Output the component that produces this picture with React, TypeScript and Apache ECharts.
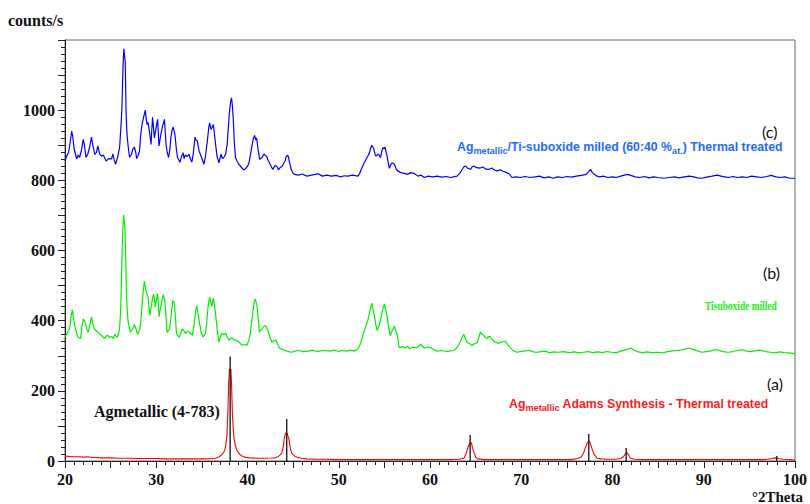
import React, { useEffect, useRef } from "react";
import * as echarts from "echarts";

// ---- data (2θ in degrees, intensity in counts/s) ----
const xTicks = [20, 30, 40, 50, 60, 70, 80, 90, 100];
const yTickLabels = [0, 200, 400, 600, 800, 1000];

const seriesC_blue: number[][] = [[20,855],[20.2,870],[20.4,880],[20.6,915],[20.73,940],[20.85,925],[21.0,890],[21.15,875],[21.27,861],[21.45,872],[21.6,865],[21.8,885],[22.0,917],[22.1,905],[22.3,865],[22.5,875],[22.7,895],[22.9,923],[23.05,900],[23.26,874],[23.45,880],[23.6,898],[23.8,875],[24.0,869],[24.2,872],[24.5,855],[24.8,862],[25.1,861],[25.25,875],[25.4,858],[25.55,846],[25.8,870],[25.98,893],[26.1,940],[26.24,1006],[26.35,1120],[26.45,1175],[26.55,1150],[26.6,1139],[26.65,1060],[26.7,988],[26.8,930],[26.9,902],[27.07,865],[27.3,875],[27.45,890],[27.6,895],[27.75,880],[27.85,862],[28.0,870],[28.16,883],[28.3,930],[28.45,960],[28.6,978],[28.8,1000],[28.9,975],[29.0,959],[29.1,965],[29.25,940],[29.43,902],[29.5,940],[29.6,980],[29.7,950],[29.8,921],[29.95,945],[30.15,974],[30.3,898],[30.5,930],[30.7,955],[30.9,974],[31.07,902],[31.2,880],[31.35,865],[31.5,890],[31.6,921],[31.75,945],[31.86,952],[32.05,930],[32.2,890],[32.33,865],[32.6,852],[32.8,870],[32.95,879],[33.05,862],[33.2,872],[33.4,868],[33.6,874],[33.75,860],[33.9,852],[34.05,875],[34.25,923],[34.35,915],[34.5,912],[34.7,883],[34.9,870],[35.1,855],[35.23,846],[35.4,870],[35.6,912],[35.75,950],[35.85,964],[36.0,945],[36.1,950],[36.25,959],[36.35,940],[36.45,915],[36.65,870],[36.87,850],[37.1,875],[37.25,862],[37.4,865],[37.6,875],[37.77,902],[37.9,950],[38.0,988],[38.15,1025],[38.25,1035],[38.35,1010],[38.43,980],[38.55,910],[38.68,865],[38.85,855],[39.05,846],[39.3,838],[39.59,829],[39.85,835],[40.13,846],[40.3,870],[40.49,898],[40.65,920],[40.78,928],[40.9,915],[41.0,921],[41.15,890],[41.33,860],[41.6,865],[41.8,875],[41.95,871],[42.1,868],[42.3,855],[42.55,842],[42.78,831],[43.0,842],[43.2,840],[43.4,830],[43.55,836],[43.8,840],[44.0,850],[44.12,855],[44.25,868],[44.4,872],[44.5,865],[44.6,852],[44.8,830],[45.03,819],[45.3,816],[45.6,815],[46.0,818],[46.5,812],[47.0,815],[47.4,817],[47.75,819],[48.2,812],[48.7,815],[49.2,812],[49.7,814],[50.2,810],[50.6,813],[51.0,812],[51.5,815],[52.1,812],[52.3,820],[52.46,831],[52.7,845],[53.0,860],[53.2,870],[53.37,879],[53.5,892],[53.62,900],[53.75,895],[53.85,889],[54.0,872],[54.1,869],[54.35,875],[54.57,865],[54.7,880],[54.82,893],[54.95,890],[55.07,895],[55.2,880],[55.3,869],[55.45,845],[55.55,834],[55.7,845],[55.84,850],[56.1,846],[56.3,832],[56.45,827],[56.8,822],[57.2,820],[57.54,817],[57.9,822],[58.3,819],[58.7,812],[59.0,815],[59.36,808],[59.8,812],[60.3,810],[60.8,812],[61.3,809],[61.8,811],[62.25,808],[62.6,810],[62.97,812],[63.25,820],[63.53,831],[63.7,838],[63.9,841],[64.1,835],[64.44,831],[64.6,838],[64.8,841],[65.1,836],[65.5,835],[65.8,838],[66.1,832],[66.43,831],[66.8,835],[67.0,830],[67.33,827],[67.7,830],[68.0,826],[68.4,822],[68.7,818],[68.97,808],[69.4,810],[69.9,808],[70.4,811],[70.96,808],[71.5,810],[72.0,812],[72.5,807],[73.0,810],[73.5,806],[74.0,810],[74.5,808],[75.0,811],[75.5,809],[76.04,812],[76.6,814],[77.1,817],[77.4,825],[77.6,831],[77.8,822],[78.0,817],[78.3,812],[78.58,810],[79.0,812],[79.5,808],[80.0,810],[80.4,808],[80.9,812],[81.3,815],[81.66,817],[82.0,814],[82.5,810],[83.0,808],[83.5,811],[84.0,807],[84.5,810],[85.0,808],[85.6,806],[86.2,808],[86.8,810],[87.3,807],[87.9,810],[88.4,812],[88.9,810],[89.3,807],[89.8,806],[90.3,809],[90.9,812],[91.46,815],[91.9,812],[92.3,810],[92.7,808],[93.2,811],[93.7,808],[94.2,810],[94.7,808],[95.26,812],[95.8,810],[96.3,808],[96.9,811],[97.4,814],[97.9,810],[98.4,808],[98.9,810],[99.4,806],[100,806]];

const seriesB_green: number[][] = [[20,353],[20.2,363],[20.4,372],[20.54,382],[20.65,410],[20.8,431],[20.95,405],[21.1,382],[21.3,362],[21.45,353],[21.7,349],[21.85,380],[22.0,405],[22.1,400],[22.25,391],[22.4,375],[22.54,367],[22.7,385],[22.9,410],[23.05,392],[23.2,377],[23.4,372],[23.6,367],[23.8,362],[24.0,358],[24.2,352],[24.35,349],[24.5,356],[24.7,358],[24.9,352],[25.1,355],[25.3,350],[25.45,361],[25.7,352],[25.85,362],[25.98,377],[26.1,430],[26.2,524],[26.3,640],[26.42,702],[26.5,680],[26.57,665],[26.65,580],[26.71,505],[26.8,440],[26.9,401],[27.15,367],[27.4,375],[27.6,389],[27.8,375],[27.95,361],[28.2,375],[28.35,410],[28.45,448],[28.6,490],[28.7,512],[28.8,495],[28.9,481],[29.1,468],[29.2,440],[29.3,415],[29.5,448],[29.6,465],[29.72,476],[29.8,460],[29.9,439],[30.0,455],[30.15,478],[30.25,440],[30.3,411],[30.5,440],[30.65,460],[30.77,474],[30.9,462],[31.0,439],[31.1,400],[31.17,367],[31.35,372],[31.5,382],[31.65,420],[31.8,457],[31.97,452],[32.1,410],[32.22,363],[32.5,353],[32.7,365],[32.87,377],[33.05,370],[33.2,363],[33.4,370],[33.6,368],[33.8,362],[33.96,358],[34.15,390],[34.33,429],[34.44,443],[34.55,425],[34.7,401],[34.9,370],[35.13,353],[35.4,365],[35.55,400],[35.67,438],[35.85,467],[36.0,450],[36.1,440],[36.26,464],[36.35,450],[36.5,420],[36.7,370],[36.87,339],[37.0,350],[37.15,363],[37.4,360],[37.6,365],[37.8,352],[37.95,344],[38.1,348],[38.3,351],[38.55,345],[38.83,344],[39.1,338],[39.4,330],[39.7,332],[39.95,330],[40.15,345],[40.3,363],[40.45,395],[40.6,429],[40.75,455],[40.86,462],[41.0,445],[41.06,439],[41.2,400],[41.3,367],[41.45,372],[41.6,377],[41.8,384],[41.95,386],[42.1,380],[42.3,367],[42.5,350],[42.67,339],[42.9,342],[43.1,345],[43.35,330],[43.58,320],[43.9,318],[44.2,314],[44.5,312],[44.85,310],[45.2,313],[45.57,315],[46.1,312],[46.65,313],[47.1,316],[47.6,312],[48.0,314],[48.47,315],[49.0,313],[49.5,316],[50.0,312],[50.3,315],[50.8,313],[51.3,316],[51.7,313],[52.1,320],[52.4,335],[52.64,358],[52.9,380],[53.19,401],[53.4,425],[53.62,450],[53.75,435],[53.9,415],[54.05,390],[54.2,372],[54.4,385],[54.57,401],[54.8,430],[55.0,448],[55.15,430],[55.3,411],[55.45,385],[55.62,358],[55.85,372],[56.1,384],[56.25,372],[56.4,358],[56.63,323],[57.0,326],[57.3,322],[57.54,327],[57.8,320],[58.1,324],[58.5,322],[59.0,332],[59.36,322],[59.7,325],[60.1,323],[60.4,318],[60.8,313],[61.3,315],[61.8,312],[62.2,314],[62.6,315],[62.9,322],[63.17,332],[63.45,348],[63.7,361],[63.9,348],[64.08,338],[64.3,335],[64.6,330],[64.9,334],[65.2,338],[65.35,352],[65.52,367],[65.7,362],[65.88,358],[66.05,352],[66.25,349],[66.4,354],[66.6,355],[66.85,345],[67.15,339],[67.45,335],[67.7,338],[68.0,340],[68.24,342],[68.5,332],[68.8,323],[69.1,315],[69.5,310],[69.9,312],[70.4,314],[70.96,315],[71.3,311],[71.7,310],[72.2,312],[72.6,313],[73.1,309],[73.6,311],[74.1,310],[74.6,312],[75.3,309],[75.8,311],[76.3,308],[76.8,310],[77.3,312],[77.8,309],[78.4,311],[78.9,309],[79.4,312],[79.9,310],[80.4,309],[80.9,313],[81.3,316],[81.6,318],[82.0,322],[82.4,315],[82.8,311],[83.3,309],[83.8,311],[84.3,309],[84.9,310],[85.47,308],[85.9,311],[86.4,313],[86.9,315],[87.3,315],[87.8,318],[88.1,320],[88.45,322],[88.8,318],[89.3,314],[89.8,310],[90.3,312],[90.8,314],[91.1,317],[91.46,317],[91.9,313],[92.3,311],[92.7,310],[93.2,312],[93.7,315],[94.17,317],[94.6,314],[95.1,312],[95.6,314],[96.0,316],[96.35,315],[96.8,312],[97.3,310],[97.8,308],[98.3,311],[98.8,309],[99.3,308],[99.7,307],[100,306]];

const seriesA_red: number[][] = [[20,14],[20.5,13],[21,12],[21.5,12],[22,11],[22.5,12],[23,10],[23.5,10],[24,9],[25,9],[26,8],[27,8],[28,7],[29,7],[30,7],[31,6],[32,6],[33,6],[34,6],[35,6],[36,6.5],[36.5,8],[36.9,12],[37.2,18],[37.45,28],[37.6,41],[37.75,75],[37.85,140],[37.95,230],[38.02,262],[38.1,258],[38.18,262],[38.25,220],[38.35,130],[38.5,69],[38.65,45],[38.85,30],[39.1,20],[39.4,14],[39.7,11],[40.2,9],[41,8],[42,8],[42.6,8.5],[43.0,9],[43.4,13],[43.75,22],[43.95,45],[44.05,69],[44.2,80],[44.3,80],[44.4,74],[44.55,60],[44.7,36],[44.85,22],[45.2,13],[45.9,8],[46.5,6],[47.5,5],[48.5,5],[50,4],[52,4],[54,4],[56,4],[58,4],[60,4],[62,4],[63.2,5],[63.7,8],[63.9,16],[64.07,31],[64.25,45],[64.44,54],[64.55,50],[64.65,38],[64.8,26],[65.0,12],[65.2,6],[66,4],[68,4],[70,4],[72,4],[74,4],[75.5,4],[76.2,7],[76.6,12],[76.85,24],[77.0,36],[77.2,50],[77.4,57],[77.5,55],[77.65,44],[77.8,31],[78.0,18],[78.3,8],[78.8,6],[79.4,5],[80.3,5],[80.9,7],[81.2,12],[81.4,20],[81.6,24],[81.75,18],[81.97,8],[82.4,5],[83,4],[85,4],[87,4],[89,4],[91,4],[93,4],[95,4],[96.5,4],[97.0,5],[97.5,7],[97.8,9],[98.2,7],[98.7,5],[99.5,4],[100,3]];

// reference pattern Ag metallic (4-783): peak positions and heights
const refPositions = [38.1, 44.3, 64.4, 77.4, 81.5, 98.0];
const refHeights = [298, 120, 74, 77, 37, 14];

const SERIF = "'Liberation Serif', 'Times New Roman', serif";
const SANS = "'Liberation Sans', Arial, sans-serif";
const CAL = "Lato, 'Noto Sans', sans-serif";

export default function App() {
  const ref = useRef<HTMLDivElement>(null);

  useEffect(() => {
    if (!ref.current) return;
    const chart = echarts.init(ref.current, null, { renderer: "svg" });

    const subRich = (color: string) => ({
      n: { fontFamily: SANS, fontWeight: "bold", fontSize: 12.3, fill: color, lineHeight: 16, verticalAlign: "middle" },
      s: { fontFamily: SANS, fontWeight: "bold", fontSize: 9.2, fill: color, lineHeight: 10, verticalAlign: "bottom" },
    });

    const option: any = {
      animation: false,
      backgroundColor: "#ffffff",
      grid: {
        left: 65,
        right: 10,
        top: 40,
        bottom: 43,
        show: true,
        borderColor: "#666",
        borderWidth: 1,
        backgroundColor: "transparent",
      },
      xAxis: {
        type: "value",
        min: 20,
        max: 100,
        interval: 5,
        axisLine: { show: true, lineStyle: { color: "#222", width: 1 } },
        axisTick: { show: true, inside: false, length: 7, lineStyle: { color: "#222" } },
        minorTick: { show: true, splitNumber: 5, length: 4, lineStyle: { color: "#222" } },
        splitLine: { show: false },
        axisLabel: {
          margin: 10,
          fontFamily: SERIF,
          fontWeight: "bold",
          fontSize: 16,
          color: "#111",
          formatter: (v: number) => (xTicks.includes(v) ? String(v) : ""),
        },
      },
      yAxis: {
        type: "value",
        min: 0,
        max: 1200,
        interval: 100,
        axisLine: { show: true, lineStyle: { color: "#222", width: 1 } },
        axisTick: { show: true, inside: false, length: 7, lineStyle: { color: "#222" } },
        minorTick: { show: true, splitNumber: 5, length: 4, lineStyle: { color: "#222" } },
        splitLine: { show: false },
        axisLabel: {
          margin: 10,
          fontFamily: SERIF,
          fontWeight: "bold",
          fontSize: 16,
          color: "#111",
          formatter: (v: number) => (yTickLabels.includes(v) ? String(v) : ""),
        },
      },
      series: [
        {
          type: "line",
          name: "(c)",
          data: seriesC_blue,
          showSymbol: false,
          lineStyle: { color: "#0000ff", width: 1.2 },
          z: 3,
        },
        {
          type: "line",
          name: "(b)",
          data: seriesB_green,
          showSymbol: false,
          lineStyle: { color: "#00ee00", width: 1.2 },
          z: 3,
        },
        {
          type: "line",
          name: "(a)",
          data: seriesA_red,
          showSymbol: false,
          lineStyle: { color: "#ff0000", width: 1.1 },
          z: 3,
        },
        {
          type: "custom",
          name: "Agmetallic (4-783)",
          data: refPositions.map((p, i) => [p, refHeights[i]]),
          z: 4,
          renderItem: (params: any, api: any) => {
            const p0 = api.coord([api.value(0), 0]);
            const p1 = api.coord([api.value(0), api.value(1)]);
            return {
              type: "line",
              shape: { x1: p0[0], y1: p0[1], x2: p1[0], y2: p1[1] },
              style: { stroke: "#111", lineWidth: 1.3 },
            };
          },
        },
      ],
      graphic: [
        {
          type: "text",
          left: 8,
          top: 12,
          style: { text: "counts/s", fontFamily: SERIF, fontWeight: "bold", fontSize: 16, fill: "#111" },
        },
        {
          type: "text",
          x: 752,
          y: 497,
          style: { text: "°2Theta", fontFamily: SERIF, fontWeight: "bold", fontSize: 15, fill: "#111", verticalAlign: "middle" },
        },
        {
          type: "text",
          x: 762,
          y: 131,
          style: { text: "(c)", fontFamily: CAL, fontSize: 16, fill: "#111", verticalAlign: "middle" },
        },
        {
          type: "text",
          x: 763,
          y: 272,
          style: { text: "(b)", fontFamily: CAL, fontSize: 16, fill: "#111", verticalAlign: "middle" },
        },
        {
          type: "text",
          x: 767,
          y: 383,
          style: { text: "(a)", fontFamily: CAL, fontSize: 16, fill: "#111", verticalAlign: "middle" },
        },
        {
          type: "text",
          x: 457,
          y: 147,
          style: {
            text: "{n|Ag}{s|metallic}{n|/Ti-suboxide milled (60:40 %}{s|at.}{n|) Thermal treated}",
            rich: subRich("#1f6bff"),
            verticalAlign: "middle",
          },
        },
        {
          type: "text",
          x: 705,
          y: 306,
          scaleX: 0.82,
          style: { text: "Tisuboxide milled", fontFamily: SERIF, fontWeight: "bold", fontSize: 11.5, fill: "#22ee22", verticalAlign: "middle" },
        },
        {
          type: "text",
          x: 509,
          y: 404,
          style: {
            text: "{n|Ag}{s|metallic}{n| Adams Synthesis - Thermal treated}",
            rich: subRich("#ff1a1a"),
            verticalAlign: "middle",
          },
        },
        {
          type: "text",
          x: 94,
          y: 411,
          style: { text: "Agmetallic (4-783)", fontFamily: SERIF, fontWeight: "bold", fontSize: 16, fill: "#111", verticalAlign: "middle" },
        },
      ],
    };

    chart.setOption(option);
    return () => chart.dispose();
  }, []);

  return (
    <div
      ref={ref}
      style={{ position: "fixed", left: 0, top: 0, width: 810, height: 504, background: "#fff" }}
    />
  );
}
